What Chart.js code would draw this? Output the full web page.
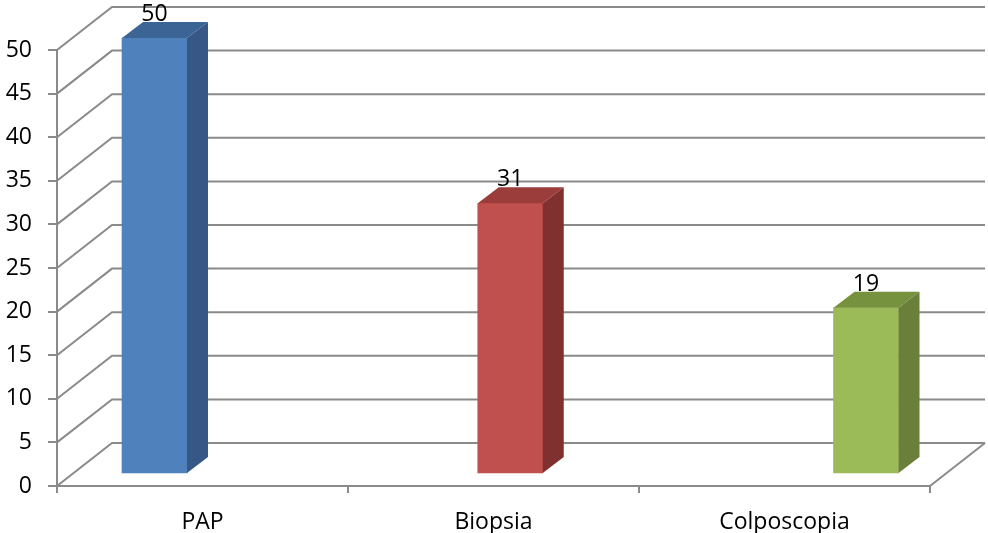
<!DOCTYPE html>
<html>
<head>
<meta charset="utf-8">
<title>PAP, Biopsia, Colposcopia</title>
<script src="https://cdn.jsdelivr.net/npm/chart.js@4.4.1/dist/chart.umd.min.js"></script>
<style>
    html, body { margin: 0; padding: 0; background: #fff; }
    canvas { display: block; }
</style>
</head>
<body>
<canvas id="chart" width="988" height="533"></canvas>
<script>
// Chart data
const categories = ['PAP', 'Biopsia', 'Colposcopia'];
const values = [50, 31, 19];
const yTicks = [0, 5, 10, 15, 20, 25, 30, 35, 40, 45, 50];

// Bar faces: front, top, side
const frontColors = ['#4f81bd', '#c0504d', '#9bbb59'];
const topColors = ['#3c6595', '#9a3d3b', '#77923f'];
const sideColors = ['#375887', '#80302e', '#6a7f3a'];

// 3D offsets
const WALL_DX = 55, WALL_DY = -43;
const BAR_DX = 21, BAR_DY = -16;
const GRID = '#8a8a8a';
const FONT = { family: "'Open Sans', sans-serif", size: 23 };

// Back wall, side wall and floor lines behind the bars
const walls = {
    id: 'walls',
    beforeDatasetsDraw(chart) {
        const { ctx, chartArea: a, scales: { y } } = chart;
        const right = chart.width - 3;
        ctx.save();
        ctx.strokeStyle = GRID;
        ctx.lineWidth = 2;
        ctx.beginPath();
        yTicks.forEach(v => {
            const py = y.getPixelForValue(v);
            ctx.moveTo(a.left, py);
            ctx.lineTo(a.left + WALL_DX, py + WALL_DY);
            ctx.lineTo(right, py + WALL_DY);
        });
        const y0 = y.getPixelForValue(0);
        ctx.moveTo(a.right, y0);
        ctx.lineTo(a.right + WALL_DX, y0 + WALL_DY);
        ctx.stroke();
        ctx.restore();
    },
    afterDatasetsDraw(chart) {
        const ctx = chart.ctx;
        const meta = chart.getDatasetMeta(0);
        ctx.save();
        meta.data.forEach((bar, i) => {
            const { x, y, base, width } = bar.getProps(['x', 'y', 'base', 'width'], true);
            const l = x - width / 2, r = x + width / 2;

            // top face
            ctx.fillStyle = topColors[i];
            ctx.beginPath();
            ctx.moveTo(l, y);
            ctx.lineTo(r, y);
            ctx.lineTo(r + BAR_DX, y + BAR_DY);
            ctx.lineTo(l + BAR_DX, y + BAR_DY);
            ctx.closePath();
            ctx.fill();

            // side face
            ctx.fillStyle = sideColors[i];
            ctx.beginPath();
            ctx.moveTo(r, y);
            ctx.lineTo(r + BAR_DX, y + BAR_DY);
            ctx.lineTo(r + BAR_DX, base + BAR_DY);
            ctx.lineTo(r, base);
            ctx.closePath();
            ctx.fill();

            // value label
            ctx.fillStyle = '#000';
            ctx.font = FONT.size + 'px ' + FONT.family;
            ctx.textAlign = 'center';
            ctx.textBaseline = 'alphabetic';
            ctx.fillText(String(values[i]), x, y + BAR_DY - 1);
        });
        ctx.restore();
    }
};

new Chart(document.getElementById('chart'), {
    type: 'bar',
    data: {
        labels: categories,
        datasets: [{
            data: values.map((v, i) => ({ x: i, y: v })),
            xAxisID: 'xb',
            yAxisID: 'yb',
            backgroundColor: frontColors,
            barThickness: 65,
            clip: false
        }]
    },
    options: {
        responsive: false,
        animation: false,
        events: [],
        layout: { padding: { top: 50, right: 58, left: 0, bottom: 0 } },
        plugins: {
            legend: { display: false },
            tooltip: { enabled: false }
        },
        scales: {
            x: {
                type: 'category',
                labels: categories,
                offset: true,
                grid: { offset: true, drawOnChartArea: false, tickLength: 7, color: GRID, lineWidth: 2 },
                border: { color: GRID, width: 2 },
                ticks: { font: FONT, color: '#000', padding: 16, maxRotation: 0 },
                afterFit(scale) { scale.height = 47; }
            },
            y: {
                min: 0,
                max: 50,
                afterBuildTicks(scale) { scale.ticks = yTicks.map(v => ({ value: v })); },
                grid: { drawOnChartArea: false, tickLength: 9, color: GRID, lineWidth: 2 },
                border: { color: GRID, width: 2 },
                ticks: { font: FONT, color: '#000', padding: 16 },
                afterFit(scale) { scale.width = 57; }
            },
            xb: { type: 'linear', display: false, offset: false, min: -0.2741, max: 2.1799 },
            yb: { type: 'linear', display: false, min: -1.494, max: 48.62 }
        }
    },
    plugins: [walls]
});
</script>
</body>
</html>
